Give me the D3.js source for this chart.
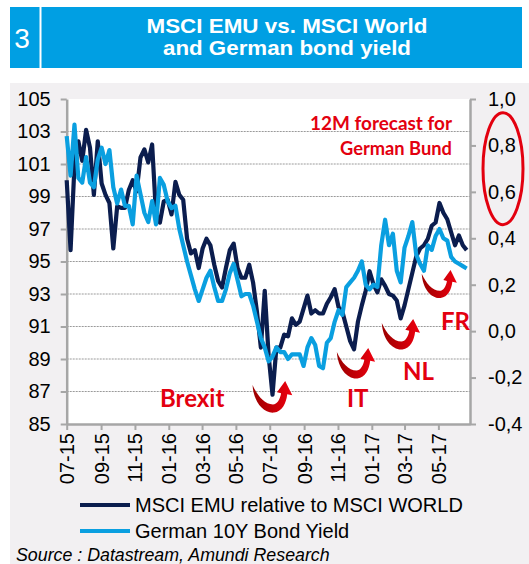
<!DOCTYPE html>
<html>
<head>
<meta charset="utf-8">
<script src="https://cdn.jsdelivr.net/npm/d3@7"></script>
<style>
  body { margin: 0; background: #fff; }
  text { font-family: "Liberation Sans", Arial, sans-serif; }
</style>
</head>
<body>
<div id="chart"></div>
<script>
// weekly observations, first one on 1 July 2015
const firstWeek = "2015-07-01";
const xDomainEnd = "2017-06-27";

// MSCI EMU relative to MSCI World (left axis)
const emuRelative = [
  100.0, 95.7, 100.9, 102.4, 101.2, 103.1, 102.0, 99.1, 102.4, 99.8,
  99.1, 98.6, 95.8, 98.4, 98.3, 98.3, 99.4, 100.0, 99.3, 101.4,
  101.9, 101.1, 102.2, 97.9, 97.4, 98.7, 98.8, 97.9, 99.9, 99.1,
  98.8, 96.4, 95.5, 95.7, 94.6, 95.8, 96.4, 96.0, 94.8, 93.8,
  93.4, 94.6, 95.7, 96.1, 94.6, 94.0, 94.0, 94.8, 93.7, 91.9,
  89.7, 93.2, 89.2, 86.8, 89.7, 89.7, 90.5, 90.4, 91.5, 91.1,
  91.3, 92.1, 92.9, 91.8, 92.0, 91.8, 91.8, 92.4, 92.8, 93.3,
  92.2, 91.9, 91.0, 90.1, 89.6, 91.3, 92.3, 93.2, 94.4, 93.6,
  93.1, 93.9, 93.5, 93.0, 92.9, 92.6, 91.5, 92.3, 93.3, 94.3,
  95.3, 95.8, 96.0, 96.4, 97.2, 97.4, 98.6, 98.0, 97.6, 96.8,
  96.0, 96.6, 96.0, 95.7
];

// German 10Y bond yield (right axis)
const bundYield = [
  0.84, 0.67, 0.89, 0.66, 0.64, 0.75, 0.64, 0.62, 0.74, 0.79,
  0.72, 0.78, 0.62, 0.55, 0.61, 0.54, 0.54, 0.46, 0.67, 0.59,
  0.51, 0.47, 0.56, 0.46, 0.66, 0.63, 0.56, 0.53, 0.54, 0.44,
  0.37, 0.30, 0.24, 0.18, 0.13, 0.18, 0.23, 0.26, 0.19, 0.13,
  0.13, 0.18, 0.25, 0.29, 0.22, 0.15, 0.16, 0.16, 0.11, 0.04,
  -0.03, -0.07, -0.13, -0.11, -0.07, -0.09, -0.09, -0.12, -0.10, -0.10,
  -0.10, -0.15, -0.07, -0.03, -0.06, -0.15, -0.16, -0.05, -0.03, 0.04,
  0.09, 0.07, 0.19, 0.21, 0.23, 0.26, 0.30, 0.20, 0.18, 0.20,
  0.19, 0.37, 0.48, 0.37, 0.42, 0.26, 0.21, 0.36, 0.41, 0.47,
  0.33, 0.29, 0.26, 0.37, 0.35, 0.41, 0.44, 0.40, 0.39, 0.32,
  0.30, 0.29, 0.28, 0.27
];

const xTickLabels = ["07-15","09-15","11-15","01-16","03-16","05-16","07-16","09-16","11-16","01-17","03-17","05-17"];
const leftTicks = [85, 87, 89, 91, 93, 95, 97, 99, 101, 103, 105];
const rightTicks = [-0.4, -0.2, 0.0, 0.2, 0.4, 0.6, 0.8, 1.0];

// political events: where each U-turn arrow starts
const eventNames = ["Brexit", "IT", "NL", "FR"];
const arrowDates = ["2016-05-31", "2016-10-30", "2017-01-19", "2017-04-01"];

const seriesNames = ["MSCI EMU relative to MSCI WORLD", "German 10Y Bond Yield"];

const width = 529, height = 564;
const plot = { left: 66.7, right: 470, top: 99, bottom: 424 };
const navy = "#0b1d4e", sky = "#0a9fe0", red = "#e3000f";

const svg = d3.select("#chart").append("svg")
  .attr("width", width)
  .attr("height", height);

// gradient for the curved arrows
const grad = svg.append("defs").append("linearGradient")
  .attr("id", "arrowGrad").attr("x1", 0).attr("x2", 1).attr("y1", 0).attr("y2", 0);
grad.append("stop").attr("offset", "0%").attr("stop-color", "#9b0000");
grad.append("stop").attr("offset", "55%").attr("stop-color", "#c80008");
grad.append("stop").attr("offset", "100%").attr("stop-color", "#f0000f");

// title bar
svg.append("rect").attr("x", 10).attr("y", 7).attr("width", 512).attr("height", 61).attr("fill", "#009fe3");
svg.append("rect").attr("x", 39.5).attr("y", 7).attr("width", 2).attr("height", 61).attr("fill", "#fff");
svg.append("text").attr("x", 22).attr("y", 48).attr("text-anchor", "middle")
  .attr("fill", "#fff").style("font-size", "28px").text("3");
svg.append("text").attr("x", 287).attr("y", 33).attr("text-anchor", "middle")
  .attr("fill", "#fff").style("font-size", "21px").style("font-weight", "bold")
  .attr("textLength", 281).attr("lengthAdjust", "spacingAndGlyphs")
  .text("MSCI EMU vs. MSCI World");
svg.append("text").attr("x", 287).attr("y", 55).attr("text-anchor", "middle")
  .attr("fill", "#fff").style("font-size", "21px").style("font-weight", "bold")
  .attr("textLength", 248).attr("lengthAdjust", "spacingAndGlyphs")
  .text("and German bond yield");

// grey panel and white plot area
svg.append("rect").attr("x", 10).attr("y", 83).attr("width", width - 10).attr("height", height - 83).attr("fill", "#f2f0f2");
svg.append("rect").attr("x", plot.left).attr("y", plot.top)
  .attr("width", plot.right - plot.left).attr("height", plot.bottom - plot.top).attr("fill", "#fff");

// scales
const parseDay = d3.utcParse("%Y-%m-%d");
const parseTick = d3.utcParse("%m-%y");
const start = parseDay(firstWeek);
const dates = emuRelative.map((_, i) => d3.utcDay.offset(start, 7 * i));

const x = d3.scaleUtc().domain([start, parseDay(xDomainEnd)]).range([plot.left, plot.right]);
const yL = d3.scaleLinear().domain([85, 105]).range([plot.bottom, plot.top]);
const yR = d3.scaleLinear().domain([-0.4, 1.0]).range([plot.bottom, plot.top]);

// gridlines
svg.append("g").selectAll("line")
  .data(leftTicks.slice(1, -1))
  .join("line")
  .attr("x1", plot.left).attr("x2", plot.right)
  .attr("y1", d => yL(d)).attr("y2", d => yL(d))
  .attr("stroke", "#9a9a9a").attr("stroke-width", 1).attr("stroke-dasharray", "2,1");

// axes
const axisColor = "#a6a6a6";
function styleAxis(g) {
  g.select(".domain").attr("stroke", axisColor).attr("stroke-width", 2.5);
  g.selectAll(".tick line").attr("stroke", axisColor).attr("stroke-width", 2);
  g.selectAll(".tick text").attr("fill", "#000").style("font-size", "20px")
    .style("font-family", "'Liberation Sans', Arial, sans-serif");
}

svg.append("g")
  .attr("transform", `translate(${plot.left},0)`)
  .call(d3.axisLeft(yL).tickValues(leftTicks).tickSize(6).tickPadding(10).tickSizeOuter(0))
  .call(styleAxis);

const commaFmt = d => d3.format(".1f")(d).replace(".", ",").replace("\u2212", "-");
svg.append("g")
  .attr("transform", `translate(${plot.right},0)`)
  .call(d3.axisRight(yR).tickValues(rightTicks).tickFormat(commaFmt).tickSize(6).tickPadding(12).tickSizeOuter(0))
  .call(styleAxis);

const xAxis = svg.append("g")
  .attr("transform", `translate(0,${plot.bottom})`)
  .call(d3.axisBottom(x).tickValues(xTickLabels.map(t => parseTick(t)))
    .tickFormat(d3.utcFormat("%m-%y")).tickSize(6).tickSizeOuter(0))
  .call(styleAxis);
xAxis.selectAll(".tick text")
  .attr("transform", "rotate(-90)")
  .attr("text-anchor", "end")
  .attr("x", -9).attr("y", 0).attr("dy", "0.35em");

// lines
const lineL = d3.line().x((d, i) => x(dates[i])).y(d => yL(d));
const lineR = d3.line().x((d, i) => x(dates[i])).y(d => yR(d));

svg.append("path").datum(emuRelative)
  .attr("d", lineL).attr("fill", "none").attr("stroke", navy)
  .attr("stroke-width", 4.2).attr("stroke-linejoin", "round");
svg.append("path").datum(bundYield)
  .attr("d", lineR).attr("fill", "none").attr("stroke", sky)
  .attr("stroke-width", 4.2).attr("stroke-linejoin", "round");

// event arrows (U-turn) and labels
const arrowPath = "M0,3 C1,20 11,31 21,30 C29,29 33,21 34,12 L39,13 L32,-1 L24,10 L28,11 C27,17 24,22 20,22 C12,22 5,14 0,3 Z";
const arrowY = [382, 349, 320, 271];
const arrowScale = [1.02, 0.98, 0.98, 0.9];
const labelPos = [[160, 407], [347, 407], [403, 380], [441, 330]];

eventNames.forEach((name, i) => {
  svg.append("path")
    .attr("d", arrowPath)
    .attr("transform", `translate(${x(parseDay(arrowDates[i]))},${arrowY[i]}) scale(${arrowScale[i]})`)
    .attr("fill", "url(#arrowGrad)");
  svg.append("text")
    .attr("x", labelPos[i][0]).attr("y", labelPos[i][1])
    .attr("fill", red)
    .style("font-family", "Lato, 'Open Sans', sans-serif")
    .style("font-weight", "bold").style("font-size", "24px")
    .text(name);
});

// forecast note and ellipse
svg.append("text").attr("x", 452).attr("y", 130).attr("text-anchor", "end")
  .attr("fill", red).style("font-family", "Lato, sans-serif").style("font-weight", "bold")
  .style("font-size", "18px").attr("textLength", 142).attr("lengthAdjust", "spacingAndGlyphs")
  .text("12M forecast for");
svg.append("text").attr("x", 452).attr("y", 155).attr("text-anchor", "end")
  .attr("fill", red).style("font-family", "Lato, sans-serif").style("font-weight", "bold")
  .style("font-size", "18px").attr("textLength", 112).attr("lengthAdjust", "spacingAndGlyphs")
  .text("German Bund");
svg.append("ellipse")
  .attr("cx", 503).attr("cy", yR(0.7))
  .attr("rx", 20).attr("ry", 56)
  .attr("fill", "none").attr("stroke", red).attr("stroke-width", 3);

// legend
const legend = svg.append("g").selectAll("g")
  .data(seriesNames)
  .join("g")
  .attr("transform", (d, i) => `translate(80,${505 + i * 26})`);
legend.append("line")
  .attr("x1", 0).attr("x2", 50)
  .attr("stroke", (d, i) => i === 0 ? navy : sky)
  .attr("stroke-width", 4);
legend.append("text")
  .attr("x", 55).attr("y", 7)
  .style("font-size", "20px").attr("fill", "#000")
  .text(d => d);

// source
svg.append("text").attr("x", 16).attr("y", 561)
  .style("font-size", "17.8px").style("font-style", "italic").attr("fill", "#000")
  .text("Source : Datastream,  Amundi Research");
</script>
</body>
</html>
